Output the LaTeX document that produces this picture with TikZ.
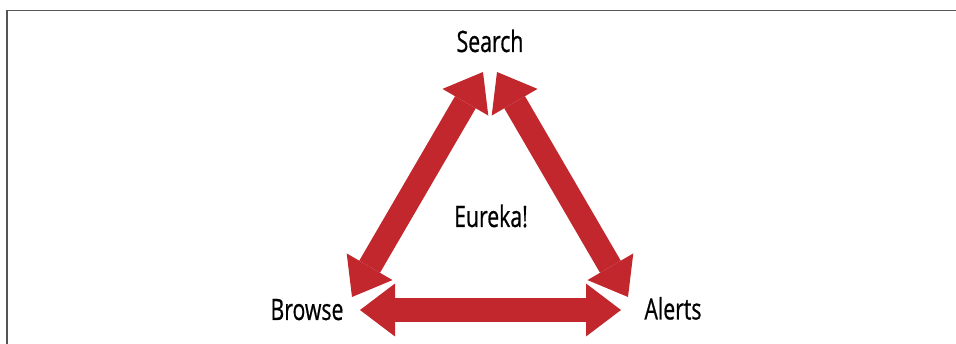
\documentclass[tikz,border=0pt]{standalone}
\usepackage{fontspec}
\setmainfont{Open Sans}[FakeStretch=0.72, FakeBold=0.6]
\usetikzlibrary{arrows.meta}
\definecolor{arrowred}{HTML}{C1272D}
\definecolor{framegray}{HTML}{555555}
\tikzset{
  label/.style={font=\fontsize{29.5}{32}\selectfont, text=black, anchor=base, inner sep=0pt},
  bigarrow/.style={draw=arrowred, line width=24pt,
    {Triangle[length=35pt, width=53pt, line width=0pt, fill=arrowred]}-{Triangle[length=35pt, width=53pt, line width=0pt, fill=arrowred]}},
  frameline/.style={draw=framegray, line width=1.8pt}
}
\begin{document}
\begin{tikzpicture}[x=1pt, y=-1pt]
  \useasboundingbox (0,0) rectangle (956,344);
  % open frame: left and top edges only
  \coordinate (fb) at (7,344);
  \coordinate (fc) at (7,10.5);
  \coordinate (fr) at (956,10.5);
  \draw[frameline] (fb) -- (fc) -- (fr);

  % labels
  \node[label] (search) at (490,52) {Search};
  \node[label] (browse) at (307,320) {Browse};
  \node[label] (alerts) at (673,319.5) {Alerts};
  \node[label] (eureka) at (491,227) {Eureka!};

  % arrow end points near each label
  \coordinate (sL) at (483,72);
  \coordinate (sR) at (497,72);
  \coordinate (bU) at (352,297);
  \coordinate (bR) at (360,310);
  \coordinate (aU) at (628,297);
  \coordinate (aL) at (621,310);

  % double-headed arrows between the three corners
  \draw[bigarrow] (bU) -- (sL);
  \draw[bigarrow] (aU) -- (sR);
  \draw[bigarrow] (bR) -- (aL);
\end{tikzpicture}
\end{document}
